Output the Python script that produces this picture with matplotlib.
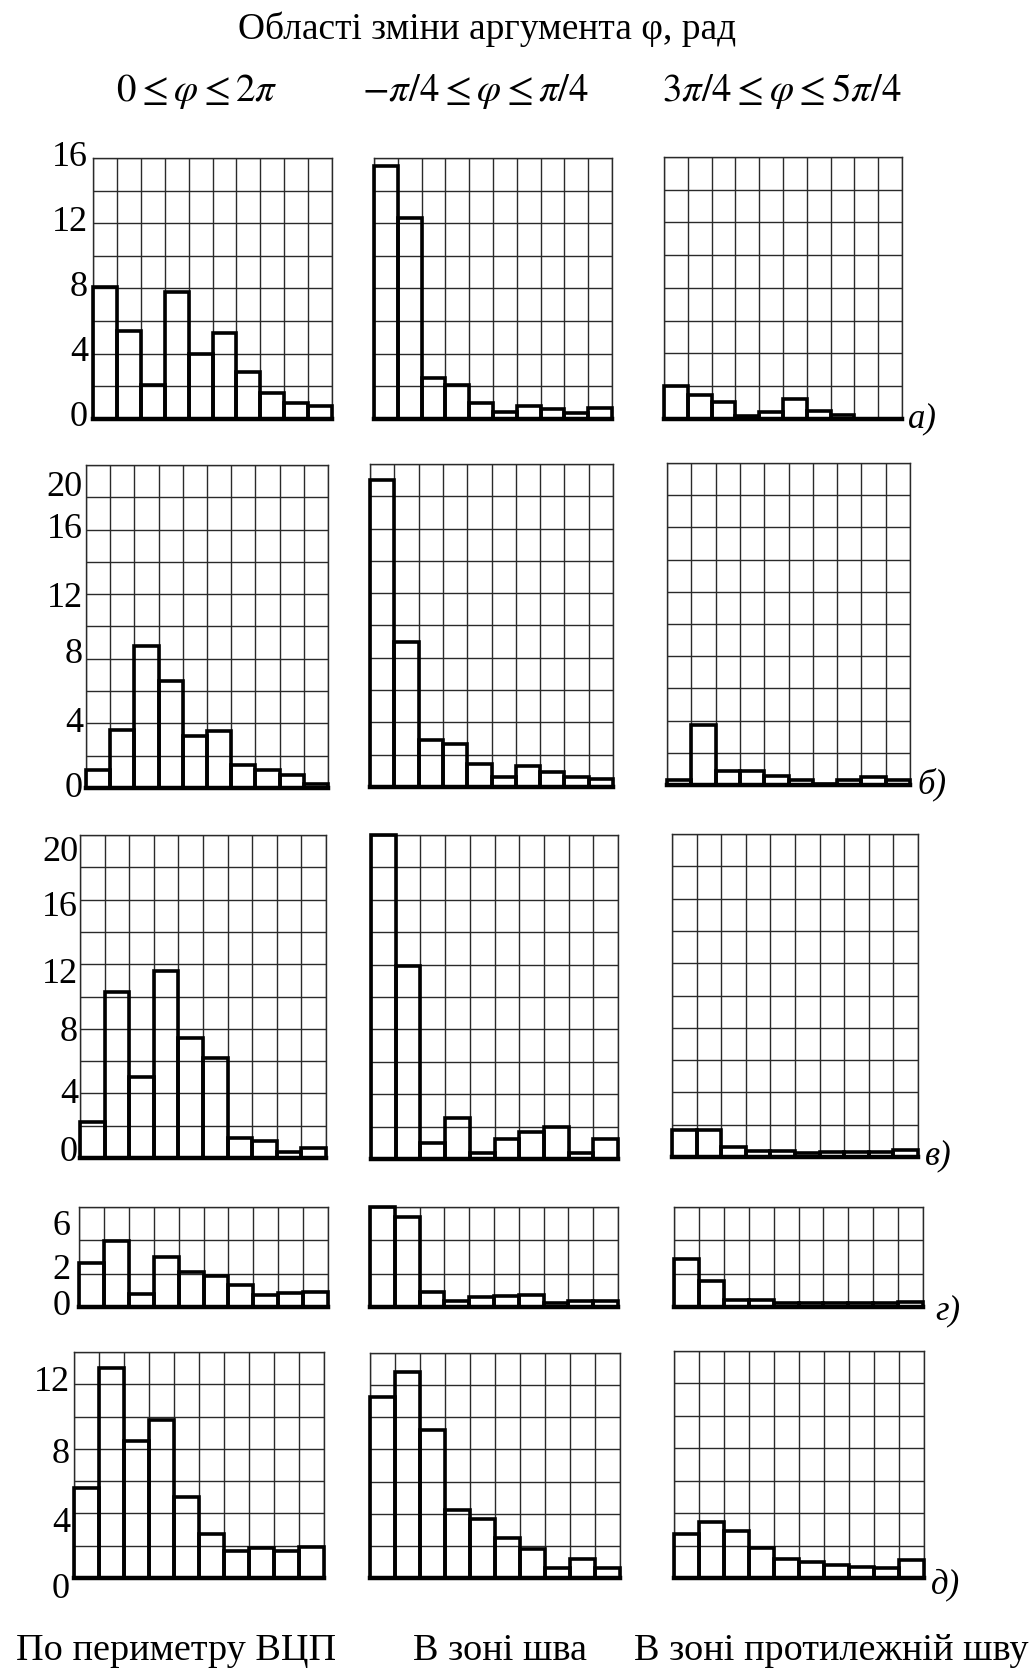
import matplotlib
matplotlib.use('Agg')
import matplotlib.pyplot as plt
from matplotlib.transforms import ScaledTranslation
import numpy as np

plt.rcParams['font.family'] = ['Liberation Serif', 'DejaVu Serif']
plt.rcParams['mathtext.fontset'] = 'stix'

# ---------------- data ----------------
bins = np.arange(10)

a_perim = [8.1, 5.4, 2.1, 7.8, 4.0, 5.3, 2.9, 1.6, 1.0, 0.8]
a_seam = [15.5, 12.3, 2.5, 2.1, 1.0, 0.4, 0.8, 0.6, 0.35, 0.65]
a_opp = [2.0, 1.45, 1.05, 0.2, 0.45, 1.2, 0.5, 0.25, 0.0, 0.0]

b_perim = [1.1, 3.6, 8.8, 6.6, 3.2, 3.5, 1.4, 1.1, 0.8, 0.25]
b_seam = [19.0, 9.0, 2.9, 2.65, 1.4, 0.65, 1.3, 0.95, 0.65, 0.5]
b_opp = [0.3, 3.7, 0.9, 0.9, 0.55, 0.3, 0.05, 0.3, 0.5, 0.3]

c_perim = [2.2, 10.3, 5.0, 11.6, 7.4, 6.2, 1.25, 1.05, 0.35, 0.6]
c_seam = [20.0, 11.9, 1.0, 2.55, 0.4, 1.25, 1.65, 1.95, 0.4, 1.25]
c_opp = [1.7, 1.7, 0.6, 0.35, 0.35, 0.25, 0.3, 0.3, 0.3, 0.45]

d_perim = [2.65, 3.95, 0.8, 3.0, 2.1, 1.85, 1.3, 0.7, 0.85, 0.9]
d_seam = [6.0, 5.4, 0.9, 0.35, 0.6, 0.65, 0.7, 0.25, 0.35, 0.35]
d_opp = [2.9, 1.55, 0.4, 0.4, 0.25, 0.25, 0.25, 0.25, 0.25, 0.3]

e_perim = [5.6, 13.0, 8.5, 9.8, 5.0, 2.7, 1.7, 1.85, 1.65, 1.9]
e_seam = [11.25, 12.8, 9.2, 4.25, 3.65, 2.5, 1.8, 0.6, 1.2, 0.6]
e_opp = [2.7, 3.45, 2.9, 1.85, 1.2, 1.0, 0.8, 0.7, 0.6, 1.1]

row_ymax = [16, 20, 20, 6, 14]
row_label_vals = [[0, 4, 8, 12, 16], [0, 4, 8, 12, 16, 20], [0, 4, 8, 12, 16, 20],
                  [0, 2, 6], [0, 4, 8, 12]]
row_letters = ['а)', 'б)', 'в)', 'г)', 'д)']

title = 'Області зміни аргумента φ, рад'
range_labels = [r'$0\leq\varphi\leq2\pi$', r'$-\pi/4\leq\varphi\leq\pi/4$',
                r'$3\pi/4\leq\varphi\leq5\pi/4$']
zone_labels = ['По периметру ВЦП', 'В зоні шва', 'В зоні протилежній шву']

row_series = [[a_perim, a_seam, a_opp], [b_perim, b_seam, b_opp], [c_perim, c_seam, c_opp],
              [d_perim, d_seam, d_opp], [e_perim, e_seam, e_opp]]

# ---------------- layout (pixels) ----------------
W, H = 1030, 1669
boxes = [
    [(93, 332, 158, 419), (374, 612, 158, 419), (664, 902, 157, 419)],
    [(86, 328, 465, 788), (370, 613, 464, 787), (667, 910, 463, 785)],
    [(80, 326, 835, 1158), (371, 618, 835, 1159), (672, 918, 834, 1157)],
    [(79, 328, 1207, 1307), (370, 618, 1207, 1307), (674, 923, 1207, 1307)],
    [(74, 324, 1352, 1578), (370, 620, 1353, 1578), (674, 924, 1351, 1578)],
]
label_pad_px = [5, 3, 2, 8, 4]
# vertical nudges of tick labels in px (positive = up)
label_nudges = [[5, 5, 5, 5, 5], [4, 4, 8, 0, 4, -18], [10, 3, 0, -6, -4, -13],
                [5, 7, -15], [-7, -6, -2, 6]]
letter_pos = [(908, 419), (917, 784), (925, 1156), (935, 1311), (931, 1585)]

fig = plt.figure(figsize=(W / 100, H / 100), dpi=100)

for r in range(5):
    ymax = row_ymax[r]
    grid_vals = np.arange(0, ymax + 1, 2)
    for c in range(3):
        x0, x1, y0, y1 = boxes[r][c]
        ax = fig.add_axes([x0 / W, 1 - y1 / H, (x1 - x0) / W, (y1 - y0) / H])
        ax.set_xlim(0, 10)
        ax.set_ylim(0, ymax)
        ax.set_xticks(np.arange(0, 11))
        ax.set_yticks(grid_vals)
        ax.grid(True, color='#2a2a2a', lw=1.0, zorder=1)
        ax.set_axisbelow(True)
        for s in ['top', 'right', 'left']:
            ax.spines[s].set_linewidth(1.0)
            ax.spines[s].set_color('#2a2a2a')
        ax.spines['bottom'].set_linewidth(3.2)
        ax.spines['bottom'].set_capstyle('projecting')
        ax.tick_params(length=0, labelbottom=False)
        ax.bar(bins, row_series[r][c], width=1, align='edge', fill=False,
               edgecolor='black', lw=2.6, zorder=3, clip_on=False)
        if c == 0:
            labs = [str(v) if v in row_label_vals[r] else '' for v in grid_vals]
            ax.set_yticklabels(labs)
            ax.tick_params(labelleft=True, labelsize=26, pad=label_pad_px[r] * 0.72)
            k = 0
            for v, t in zip(grid_vals, ax.get_yticklabels()):
                if v in row_label_vals[r]:
                    dy = label_nudges[r][k] / 100.0
                    t.set_transform(t.get_transform() + ScaledTranslation(0, dy, fig.dpi_scale_trans))
                    k += 1
        else:
            ax.tick_params(labelleft=False)
    lx, ly = letter_pos[r]
    fig.text(lx / W, 1 - ly / H, row_letters[r], fontsize=25, style='italic',
             ha='left', va='center')

fig.text(487 / W, 1 - 39 / H, title, fontsize=27, ha='center', va='baseline')
for x, s in zip([197, 476, 782], range_labels):
    fig.text(x / W, 1 - 101 / H, s, fontsize=28, ha='center', va='baseline')
for x, s in zip([176, 500, 831], zone_labels):
    fig.text(x / W, 1 - 1660 / H, s, fontsize=27.5, ha='center', va='baseline')

fig.savefig('out.png', dpi=100, facecolor='white')
